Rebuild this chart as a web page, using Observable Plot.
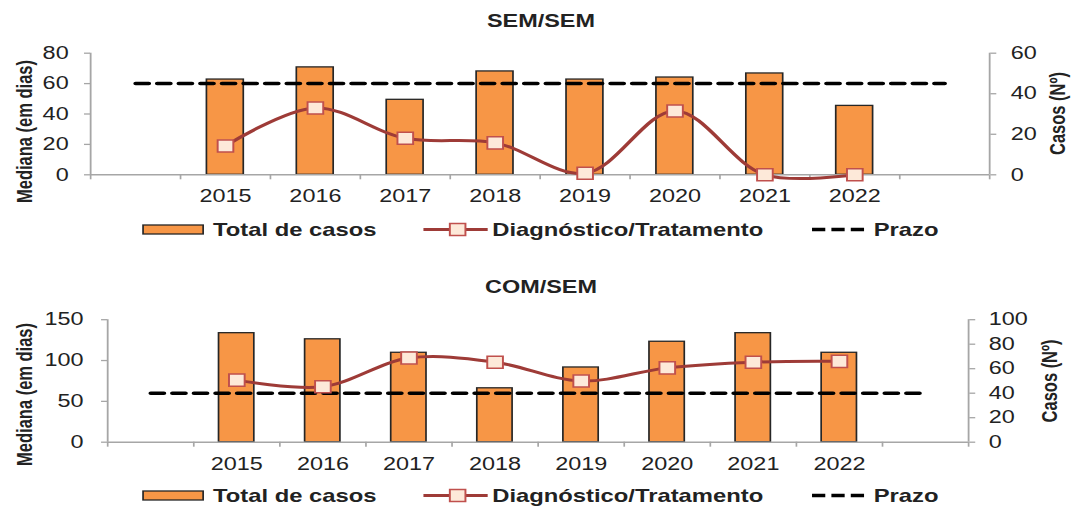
<!DOCTYPE html>
<html>
<head>
<meta charset="utf-8">
<script src="https://cdn.jsdelivr.net/npm/d3@7"></script>
<script src="https://cdn.jsdelivr.net/npm/@observablehq/plot@0.6"></script>
<style>
  html, body { margin: 0; padding: 0; background: #fff; overflow: hidden; width: 1082px; height: 506px; }
  #stage { position: absolute; left: 0; top: 0; width: 832px; height: 506px; transform-origin: 0 0;
           font-family: "Liberation Sans", Arial, sans-serif; color: #222; }
  .title { position: absolute; left: 0; width: 832px; text-align: center; font-weight: bold;
           font-size: 18px; line-height: 18px; }
  .panel, .legend { position: absolute; left: 0; }
  .panel svg { overflow: visible; }
</style>
</head>
<body>
<div id="stage"></div>
<script>
// ---------- data ----------
const categories = ["", "2015", "2016", "2017", "2018", "2019", "2020", "2021", "2022", ""];

// SEM/SEM
const semTotal = [null, 47, 53, 37, 51, 47, 48, 50, 34, null];   // Casos (Nº) - right axis
const semDiag  = [null, 19, 44, 24, 21, 1, 42, 0, 0, null];      // Mediana (em dias) - left axis
const semPrazo = [60, 60, 60, 60, 60, 60, 60, 60, 60, 60];
const semDaysTicks  = [0, 20, 40, 60, 80];
const semCasesTicks = [0, 20, 40, 60];

// COM/SEM
const comTotal = [null, 89, 84, 73, 44, 61, 82, 89, 73, null];
const comDiag  = [null, 76, 68, 103, 98, 75, 91, 98, 99, null];
const comPrazo = [60, 60, 60, 60, 60, 60, 60, 60, 60, 60];
const comDaysTicks  = [0, 50, 100, 150];
const comCasesTicks = [0, 20, 40, 60, 80, 100];

const titles = ["SEM/SEM", "COM/SEM"];
const legendLabels = ["Total de casos", "Diagnóstico/Tratamento", "Prazo"];
const leftTitle = "Mediana (em dias)";
const rightTitle = "Casos (Nº)";

// ---------- style ----------
const W = 832, SX = 1082 / W;
const FONT = '"Liberation Sans", Arial, sans-serif';
const AXIS_GRAY = "#A6A6A6", TEXT = "#222";
const BAR_FILL = "#F79646", BAR_STROKE = "#262626";
const LINE = "#9E3B37", MARK_FILL = "#FDE9D9", MARK_STROKE = "#C0504D";

document.getElementById("stage").style.transform = `scaleX(${SX})`;

function rows(values) {
  return values.map((v, i) => ({i, v})).filter(d => d.v != null);
}

function chart(cfg) {
  const k = cfg.daysTicks[cfg.daysTicks.length - 1] / cfg.casesTicks[cfg.casesTicks.length - 1];
  const n = categories.length;
  return Plot.plot({
    width: W,
    height: cfg.height,
    marginTop: cfg.mt, marginBottom: cfg.mb, marginLeft: cfg.ml, marginRight: cfg.mr,
    x: {type: "linear", domain: [-0.5, n - 0.5], label: null},
    y: {domain: [0, cfg.daysTicks[cfg.daysTicks.length - 1]], label: null},
    style: {fontFamily: FONT, fontSize: "18px", color: TEXT, background: "transparent", overflow: "visible"},
    marks: [
      Plot.rectY(rows(cfg.total), {
        x1: d => d.i - 0.205, x2: d => d.i + 0.205, y1: 0, y2: d => d.v * k,
        fill: BAR_FILL, stroke: BAR_STROKE, strokeWidth: 1.3
      }),
      Plot.ruleY([0], {stroke: AXIS_GRAY, strokeWidth: 1.6}),
      Plot.ruleX([-0.5, n - 0.5], {stroke: AXIS_GRAY, strokeWidth: 1.4}),
      Plot.axisX({ticks: d3.range(-0.5, n, 1), tickSize: 5, tickFormat: () => "", stroke: AXIS_GRAY, strokeWidth: 1.3, label: null}),
      Plot.axisX({ticks: d3.range(n), tickSize: 0, tickPadding: cfg.xPad, tickFormat: i => categories[i],
                  fill: TEXT, fontSize: 18, label: null}),
      Plot.axisY({anchor: "left", ticks: cfg.daysTicks, tickSize: 4.6, tickPadding: cfg.lPad,
                  stroke: AXIS_GRAY, strokeWidth: 1.3, fill: TEXT, fontSize: 18, label: null}),
      Plot.axisY({anchor: "right", ticks: cfg.casesTicks.map(c => c * k), tickSize: 4.6, tickPadding: cfg.rPad,
                  tickFormat: v => String(Math.round(v / k)),
                  stroke: AXIS_GRAY, strokeWidth: 1.3, fill: TEXT, fontSize: 18, label: null}),
      Plot.line(rows(cfg.prazo), {x: "i", y: "v", stroke: "#000", strokeWidth: 3.5, strokeDasharray: "10.2,6.4"}),
      Plot.line(rows(cfg.diag), {x: "i", y: "v", curve: "catmull-rom", stroke: LINE, strokeWidth: 3}),
      Plot.dot(rows(cfg.diag), {x: "i", y: "v", symbol: "square", r: 6.8,
                                fill: MARK_FILL, stroke: MARK_STROKE, strokeWidth: 1.5}),
      Plot.text([leftTitle], {text: d => d, frameAnchor: "left", textAnchor: "middle", rotate: -90,
                              dx: cfg.ltDx, dy: cfg.ltDy, fontWeight: "bold", fontSize: 16.5, fill: TEXT}),
      Plot.text([rightTitle], {text: d => d, frameAnchor: "right", textAnchor: "middle", rotate: -90,
                               dx: cfg.rtDx, dy: cfg.rtDy, fontWeight: "bold", fontSize: 16.5, fill: TEXT})
    ]
  });
}

function legend(top, height, yc, baseline) {
  const fs = 18.3;
  const t = (x, s) => `<text x="${x}" y="${baseline}" font-family='${FONT}' font-weight="bold" font-size="${fs}" fill="${TEXT}">${s}</text>`;
  const side = 12;
  return `<svg class="legend" style="top:${top}px" width="${W}" height="${height}" xmlns="http://www.w3.org/2000/svg">
    <rect x="110" y="${yc - 4.5}" width="46.2" height="9" fill="${BAR_FILL}" stroke="${BAR_STROKE}" stroke-width="1.3"/>
    ${t(163.8, legendLabels[0])}
    <line x1="325.6" x2="375" y1="${yc}" y2="${yc}" stroke="${LINE}" stroke-width="3"/>
    <rect x="${351.9 - side / 2}" y="${yc - side / 2}" width="${side}" height="${side}" fill="${MARK_FILL}" stroke="${MARK_STROKE}" stroke-width="1.5"/>
    ${t(378.5, legendLabels[1])}
    <line x1="624.4" x2="664.4" y1="${yc}" y2="${yc}" stroke="#000" stroke-width="3.5" stroke-dasharray="10.2,4.7"/>
    ${t(671.8, legendLabels[2])}
  </svg>`;
}

const stage = document.getElementById("stage");

// titles
const t1 = document.createElement("div");
t1.className = "title"; t1.style.top = "12px"; t1.textContent = titles[0];
stage.appendChild(t1);
const t2 = document.createElement("div");
t2.className = "title"; t2.style.top = "278px"; t2.textContent = titles[1];
stage.appendChild(t2);

// panel 1
const p1 = document.createElement("div");
p1.className = "panel"; p1.style.top = "40px";
p1.appendChild(chart({
  total: semTotal, diag: semDiag, prazo: semPrazo,
  daysTicks: semDaysTicks, casesTicks: semCasesTicks,
  height: 180, mt: 12.7, mb: 45.7, ml: 69.2, mr: 71.5,
  xPad: 14.6, lPad: 12.3, rPad: 11.6,
  ltDx: -50.7, ltDy: 17.5, rtDx: 53, rtDy: -0.5
}));
stage.appendChild(p1);

// panel 2
const p2 = document.createElement("div");
p2.className = "panel"; p2.style.top = "306px";
p2.appendChild(chart({
  total: comTotal, diag: comDiag, prazo: comPrazo,
  daysTicks: comDaysTicks, casesTicks: comCasesTicks,
  height: 180, mt: 13.2, mb: 44.3, ml: 82.3, mr: 87.7,
  xPad: 15, lPad: 13.9, rPad: 10.8,
  ltDx: -63.8, ltDy: 13.5, rtDx: 63, rtDy: 0
}));
stage.appendChild(p2);

// legends
stage.insertAdjacentHTML("beforeend", legend(215, 30, 14.5, 21.5));
stage.insertAdjacentHTML("beforeend", legend(482, 24, 13.5, 20));
</script>
</body>
</html>
